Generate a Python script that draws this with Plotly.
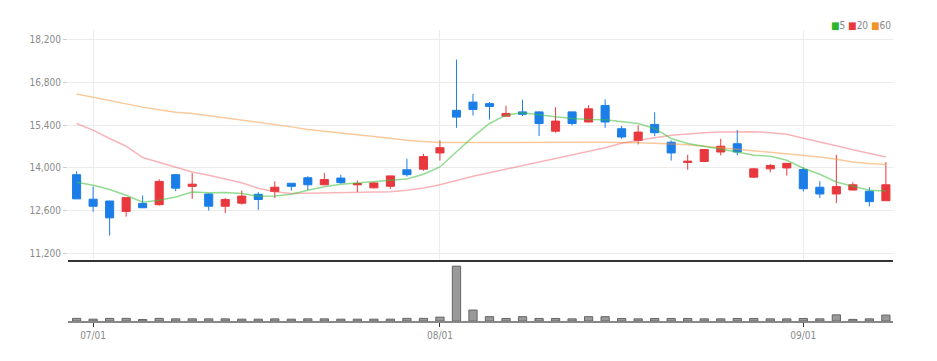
import plotly.graph_objects as go
from plotly.subplots import make_subplots

dates = ["06/30", "07/01", "07/02", "07/03", "07/04", "07/07", "07/08", "07/09", "07/10", "07/11",
         "07/14", "07/15", "07/16", "07/17", "07/18", "07/21", "07/22", "07/23", "07/24", "07/25",
         "07/28", "07/29", "08/01", "08/04", "08/05", "08/06", "08/07", "08/08", "08/11", "08/12",
         "08/13", "08/14", "08/15", "08/18", "08/19", "08/20", "08/21", "08/22", "08/25", "08/26",
         "08/27", "08/28", "08/29", "08/30", "09/01", "09/02", "09/03", "09/04", "09/05", "09/08"]

open_ = [13780, 12980, 12920, 12580, 12840, 12800, 13780, 13400, 13150, 12750,
         12850, 13140, 13230, 13500, 13680, 13450, 13670, 13450, 13350, 13400,
         13940, 13960, 14490, 15880, 16150, 16100, 15690, 15830, 15830, 15200,
         15830, 15500, 16040, 15280, 14900, 15420, 14840, 14180, 14210, 14520,
         14790, 13700, 13970, 14000, 13950, 13370, 13150, 13280, 13240, 12930]
high = [13890, 13390, 12930, 13040, 13100, 13630, 13800, 13830, 13160, 13020,
        13260, 13210, 13560, 13510, 13730, 13840, 13780, 13590, 13540, 13750,
        14300, 14460, 14900, 17540, 16420, 16150, 16030, 16230, 15840, 15980,
        15840, 16050, 16240, 15370, 15390, 15820, 14900, 14430, 14610, 14950,
        15240, 14000, 14130, 14160, 14020, 13570, 14430, 13530, 13370, 14190]
low = [12990, 12570, 11790, 12410, 12690, 12770, 13240, 12990, 12610, 12530,
       12800, 12630, 13020, 13260, 13280, 13440, 13480, 13210, 13330, 13320,
       13720, 13910, 14240, 15310, 15710, 15580, 15690, 15690, 15040, 15150,
       15390, 15490, 15310, 14950, 14770, 15040, 14240, 13940, 14190, 14410,
       14410, 13670, 13860, 13750, 13230, 13020, 12850, 13270, 12740, 12930]
close = [12990, 12750, 12370, 13030, 12700, 13560, 13340, 13470, 12750, 12970,
         13080, 12970, 13370, 13400, 13450, 13620, 13520, 13490, 13510, 13740,
         13780, 14370, 14660, 15660, 15910, 16010, 15780, 15750, 15450, 15530,
         15450, 15930, 15500, 15010, 15170, 15150, 14490, 14220, 14600, 14710,
         14520, 13970, 14080, 14150, 13320, 13150, 13390, 13450, 12900, 13450]

ma5 = [13532, 13434, 13293, 13107, 12878, 12943, 13051, 13215, 13189, 13195,
       13163, 13074, 13084, 13140, 13271, 13385, 13467, 13516, 13549, 13598,
       13640, 13794, 14033, 14530, 15014, 15452, 15724, 15799, 15724, 15668,
       15616, 15583, 15577, 15505, 15452, 15289, 14962, 14798, 14710, 14602,
       14523, 14416, 14383, 14252, 13990, 13794, 13542, 13401, 13271, 13248]
ma20 = [15452, 15233, 14962, 14710, 14340, 14187, 14039, 13869, 13761, 13631,
        13516, 13336, 13222, 13163, 13173, 13205, 13215, 13215, 13215, 13222,
        13271, 13343, 13450, 13598, 13730, 13844, 13958, 14073, 14187, 14302,
        14416, 14530, 14661, 14808, 14906, 14988, 15070, 15119, 15152, 15174,
        15184, 15184, 15152, 15102, 14971, 14857, 14726, 14595, 14474, 14360]
ma60 = [16411, 16303, 16192, 16084, 15986, 15897, 15822, 15779, 15707, 15636,
        15570, 15505, 15430, 15341, 15256, 15191, 15135, 15080, 15027, 14962,
        14906, 14864, 14831, 14831, 14835, 14840, 14840, 14840, 14840, 14840,
        14840, 14840, 14840, 14840, 14825, 14808, 14792, 14759, 14710, 14661,
        14612, 14563, 14514, 14465, 14416, 14360, 14285, 14196, 14144, 14111]

volume = [115000, 80000, 115000, 115000, 65000, 115000, 95000, 95000, 95000, 95000,
          80000, 80000, 95000, 80000, 95000, 95000, 80000, 80000, 80000, 80000,
          115000, 115000, 170000, 2400000, 480000, 190000, 110000, 190000, 110000, 110000,
          95000, 190000, 190000, 110000, 95000, 110000, 110000, 110000, 95000, 95000,
          110000, 110000, 95000, 95000, 110000, 95000, 270000, 70000, 95000, 260000]

y_ticks = [11200, 12600, 14000, 15400, 16800, 18200]
x_ticks = ["07/01", "08/01", "09/01"]

RED = "#e8383d"
BLUE = "#1b7ee8"
FONT = "Liberation Sans Narrow, DejaVu Sans Condensed, Arial Narrow, sans-serif"

fig = make_subplots(rows=2, cols=1, shared_xaxes=False, vertical_spacing=0.0,
                    row_heights=[0.79, 0.21])

fig.add_trace(go.Candlestick(
    x=dates, open=open_, high=high, low=low, close=close,
    increasing=dict(line=dict(color=RED, width=1), fillcolor=RED),
    decreasing=dict(line=dict(color=BLUE, width=1), fillcolor=BLUE),
    whiskerwidth=0, showlegend=False, hoverinfo="skip"), row=1, col=1)

for vals, col in [(ma60, "rgba(245,150,60,0.5)"), (ma20, "rgba(240,90,100,0.45)"),
                  (ma5, "rgba(60,190,60,0.55)")]:
    fig.add_trace(go.Scatter(x=dates, y=vals, mode="lines",
                             line=dict(color=col, width=1.5),
                             showlegend=False, hoverinfo="skip"), row=1, col=1)

fig.add_trace(go.Bar(x=dates, y=volume, marker=dict(color="#9a9a9a",
                                                    line=dict(color="#666666", width=1)),
                     width=0.5, showlegend=False, hoverinfo="skip"), row=2, col=1)

xr = [-0.52, 49.43]
fig.update_layout(
    width=937, height=361,
    margin=dict(l=68, r=44, t=30, b=40),
    paper_bgcolor="white", plot_bgcolor="white",
    font=dict(family=FONT, size=10, color="#8a8a8a"),
    xaxis=dict(type="category", range=xr, rangeslider=dict(visible=False),
               domain=[0, 1], anchor="y",
               tickvals=x_ticks, showticklabels=False, ticks="",
               showgrid=True, gridcolor="#ececec", gridwidth=1,
               showline=True, linecolor="#333333", linewidth=2, zeroline=False),
    yaxis=dict(domain=[0.2113, 1.0], range=[11010, 18504], tickvals=y_ticks,
               tickformat=",", showgrid=True, gridcolor="#ececec",
               ticks="outside", ticklen=4, tickcolor="#cccccc",
               showline=False, zeroline=False),
    xaxis2=dict(type="category", range=xr, anchor="y2", tickvals=x_ticks,
                ticks="outside", ticklen=4, tickcolor="#333333",
                showgrid=False, showline=True, linecolor="#888888", linewidth=2,
                zeroline=False, tickfont=dict(size=10, color="#8a8a8a")),
    yaxis2=dict(domain=[0.0, 0.1924], range=[0, 2450000], showticklabels=False,
                showgrid=False, zeroline=False, showline=False, ticks=""),
    bargap=0.5,
)

fig.add_annotation(
    x=1.0, y=1.0 + (30 - 25) / 291, xref="paper", yref="paper",
    xanchor="right", yanchor="middle",
    text=("<span style='color:#2db52d'>■</span>5 "
          "<span style='color:#e8383d'>■</span>20 "
          "<span style='color:#f0932b'>■</span>60"),
    showarrow=False, font=dict(family=FONT, size=10, color="#888888"))

fig.write_html("out.html")
